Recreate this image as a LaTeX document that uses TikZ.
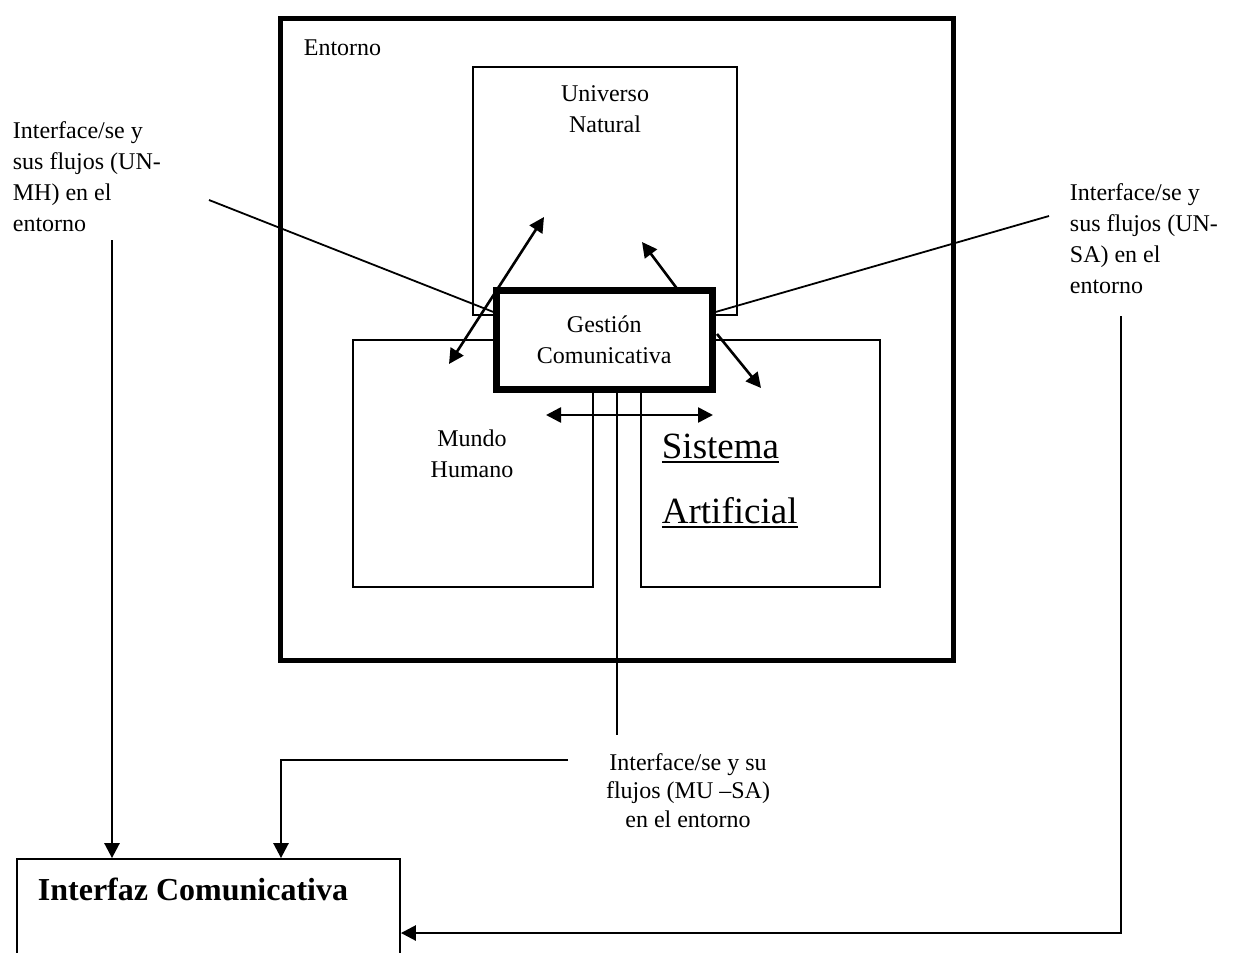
\documentclass[tikz,border=0pt]{standalone}
\usepackage{fontspec}
\setmainfont{Liberation Serif}
\usetikzlibrary{arrows.meta}
\newcommand{\subrayado}[1]{\setbox0\hbox{#1}\rlap{\rule[-2.6pt]{\wd0}{0.9pt}}\box0}

\begin{document}
\begin{tikzpicture}[x=0.5pt, y=-0.5pt, line width=0.9pt, font=\fontsize{12}{15.5}\selectfont,
  caja/.style = {draw, rectangle, inner sep=0pt},
  texto/.style = {inner sep=0pt, align=left},
  flecha/.style = {line width=1.3pt, -{Triangle[length=7.5pt,width=7.5pt]}},
  doble/.style = {line width=1.3pt, {Triangle[length=7.5pt,width=7.5pt]}-{Triangle[length=7.5pt,width=7.5pt]}}]
\useasboundingbox (0,0) rectangle (1235,952);
\node[caja, line width=2.5pt, minimum width=336.5pt, minimum height=320.75pt] (ent) at (617,339.25) {};
\node[texto, anchor=base west] (entt) at (303,56) {Entorno};
\node[caja, minimum width=132pt, minimum height=124pt] (un) at (605,191) {};
\node[texto, align=center, anchor=base] (unt) at (605,133) {Universo\\Natural};
\node[caja, minimum width=120pt, minimum height=123.5pt] (mh) at (473,463.5) {};
\node[texto, align=center, anchor=base] (mht) at (472,477) {Mundo\\Humano};
\node[caja, minimum width=119.5pt, minimum height=123.5pt] (sa) at (760.5,463.5) {};
\node[texto, anchor=base west, font=\fontsize{18.5}{32.5}\selectfont] (sat) at (661,523) {\subrayado{Sistema}\\\subrayado{Artificial}};
\node[caja, fill=white, line width=3.5pt, minimum width=107.75pt, minimum height=49.25pt, align=center] (ge) at (604.25,339.75) {Gestión\\Comunicativa};
\node[caja, minimum width=191.5pt, minimum height=74pt] (ic) at (208.5,933) {};
\node[texto, anchor=base west, font=\fontsize{16}{19}\selectfont\bfseries] (ict) at (37,900) {Interfaz Comunicativa};
\node[texto, anchor=base west] (izq) at (12,232) {Interface/se y\\sus flujos (UN-\\MH) en el\\entorno};
\node[texto, anchor=base west] (der) at (1069,293) {Interface/se y\\sus flujos (UN-\\SA) en el\\entorno};
\node[texto, align=center, anchor=base, font=\fontsize{12}{14.2}\selectfont] (aba) at (688,827) {Interface/se y su\\flujos (MU --SA)\\en el entorno};
\coordinate (a1) at (209,200);
\coordinate (a2) at (496,313);
\coordinate (b1) at (1049,216);
\coordinate (b2) at (712,313);
\coordinate (l1) at (112,240);
\coordinate (r1) at (1121,316);
\coordinate (m1) at (617,735);
\coordinate (m2) at (568,760);
\coordinate (m3) at (281,760);
\draw (a1) -- (a2);
\draw (b1) -- (b2);
\draw (m1 |- ge.south) -- (m1);
\draw[flecha] (l1) -- (l1 |- ic.north);
\draw[flecha] (m2) -- (m3) -- (m3 |- ic.north);
\draw[flecha] (r1) |- (ic.east);
\draw[doble] (544,217) -- (449,364);
\draw[flecha] (678,290) -- (642,242);
\draw[flecha] (717,334) -- (761,388);
\draw[doble] (546,415) -- (713,415);
\end{tikzpicture}
\end{document}
